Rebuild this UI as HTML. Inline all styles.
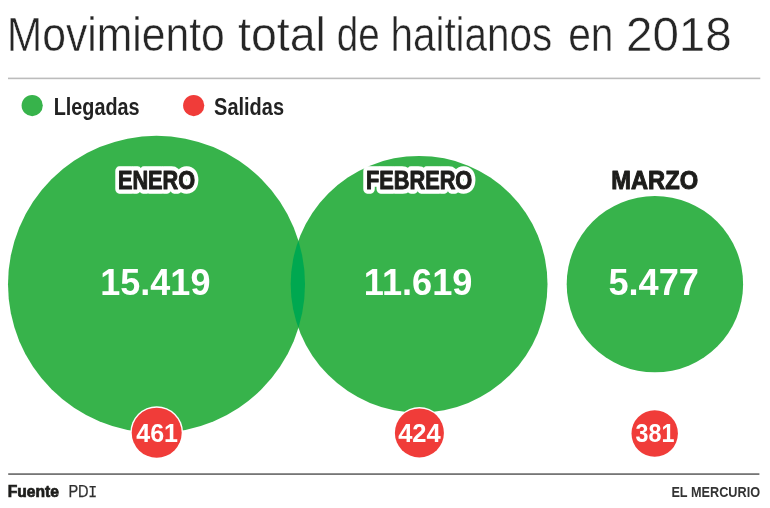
<!DOCTYPE html>
<html lang="es">
<head>
<meta charset="utf-8">
<title>Movimiento total de haitianos en 2018</title>
<style>
html,body{margin:0;padding:0;background:#fff;}
body{width:770px;height:508px;overflow:hidden;}
svg{display:block;}
text{font-family:"Liberation Sans",sans-serif;}
.b{font-weight:bold;}
.title{font-size:47.5px;fill:#262626;stroke:#fff;stroke-width:0.5px;}
.lbl{font-weight:bold;font-size:25px;}
.halo{fill:#fff;stroke:#fff;stroke-width:9.5px;stroke-linejoin:round;}
.ink{fill:#1d1d1b;stroke:#1d1d1b;stroke-width:1px;stroke-linejoin:round;}
.num{font-weight:bold;font-size:36px;fill:#fff;}
.rn{font-weight:bold;font-size:25px;fill:#fff;}
</style>
</head>
<body>
<svg width="770" height="508" viewBox="0 0 770 508">
  <defs>
    <clipPath id="c1"><circle cx="156.5" cy="284.3" r="148.5"/></clipPath>
  </defs>
  <rect width="770" height="508" fill="#fff"/>
  <text class="title" y="50.6"><tspan x="6.64" textLength="218.08" lengthAdjust="spacingAndGlyphs">Movimiento</tspan> <tspan x="238.00" textLength="87.93" lengthAdjust="spacingAndGlyphs">total</tspan> <tspan x="336.77" textLength="42.95" lengthAdjust="spacingAndGlyphs">de</tspan> <tspan x="390.41" textLength="161.91" lengthAdjust="spacingAndGlyphs">haitianos</tspan> <tspan x="568.13" textLength="45.34" lengthAdjust="spacingAndGlyphs">en</tspan> <tspan x="625.98" textLength="105.81" lengthAdjust="spacingAndGlyphs">2018</tspan></text>
  <rect x="8" y="77.6" width="752.3" height="1.6" fill="#bcbcbc"/>

  <circle cx="32.2" cy="105.6" r="10.6" fill="#37b34b"/>
  <text class="b" x="53.73" y="114.6" font-size="23" fill="#222" textLength="85.93" lengthAdjust="spacingAndGlyphs">Llegadas</text>
  <circle cx="193.7" cy="105.6" r="10.6" fill="#f03c39"/>
  <text class="b" x="214.12" y="114.6" font-size="23" fill="#222" textLength="69.91" lengthAdjust="spacingAndGlyphs">Salidas</text>

  <circle cx="156.5" cy="284.3" r="148.5" fill="#37b34b"/>
  <circle cx="419.1" cy="284.3" r="128.4" fill="#37b34b"/>
  <circle cx="419.1" cy="284.3" r="128.4" fill="#00a850" clip-path="url(#c1)"/>
  <circle cx="654.9" cy="284.15" r="88.2" fill="#37b34b"/>

  <circle cx="156.7" cy="432.7" r="26.4" fill="#fff"/>
  <circle cx="156.7" cy="432.7" r="25" fill="#f03c39"/>
  <circle cx="419.4" cy="432.9" r="25.8" fill="#fff"/>
  <circle cx="419.4" cy="432.9" r="24.5" fill="#f03c39"/>
  <circle cx="654.7" cy="433.5" r="24.5" fill="#fff"/>
  <circle cx="654.7" cy="433.5" r="23.2" fill="#f03c39"/>

  <g class="halo">
    <text id="m1" class="lbl" x="117.94" y="189.3" textLength="77.22" lengthAdjust="spacingAndGlyphs">ENERO</text>
    <text id="m2" class="lbl" x="365.97" y="189.3" textLength="106.31" lengthAdjust="spacingAndGlyphs">FEBRERO</text>
    <text id="m3" class="lbl" x="611.25" y="189.3" textLength="86.83" lengthAdjust="spacingAndGlyphs">MARZO</text>
  </g>
  <use href="#m1" class="ink"/>
  <use href="#m2" class="ink"/>
  <use href="#m3" class="ink"/>

  <text class="num" x="100.34" y="294.7" textLength="110.07" lengthAdjust="spacingAndGlyphs">15.419</text>
  <text class="num" x="363.78" y="294.7" textLength="108.74" lengthAdjust="spacingAndGlyphs">11.619</text>
  <text class="num" x="608.45" y="294.7" textLength="90.41" lengthAdjust="spacingAndGlyphs">5.477</text>

  <text class="rn" x="136.20" y="441.6" textLength="41.82" lengthAdjust="spacingAndGlyphs">461</text>
  <text class="rn" x="398.20" y="441.6" textLength="42.57" lengthAdjust="spacingAndGlyphs">424</text>
  <text class="rn" x="635.52" y="441.6" textLength="38.87" lengthAdjust="spacingAndGlyphs">381</text>

  <rect x="8.2" y="473.4" width="751.2" height="1.35" fill="#4a4a4a"/>
  <text class="b" x="7.79" y="496.6" font-size="15.6" fill="#1d1d1b" stroke="#1d1d1b" stroke-width="0.7" textLength="51.20" lengthAdjust="spacingAndGlyphs">Fuente</text>
  <text y="496.6" font-size="15.6" fill="#303030" stroke="#303030" stroke-width="0.25"><tspan x="68.38" textLength="20.20" lengthAdjust="spacingAndGlyphs">PD</tspan><tspan x="88.15" textLength="8.89" lengthAdjust="spacingAndGlyphs" style="font-family:'Liberation Mono',monospace">I</tspan></text>
  <text class="b" x="671.39" y="496.6" font-size="14.9" fill="#333" textLength="88.68" lengthAdjust="spacingAndGlyphs">EL MERCURIO</text>
</svg>
</body>
</html>
